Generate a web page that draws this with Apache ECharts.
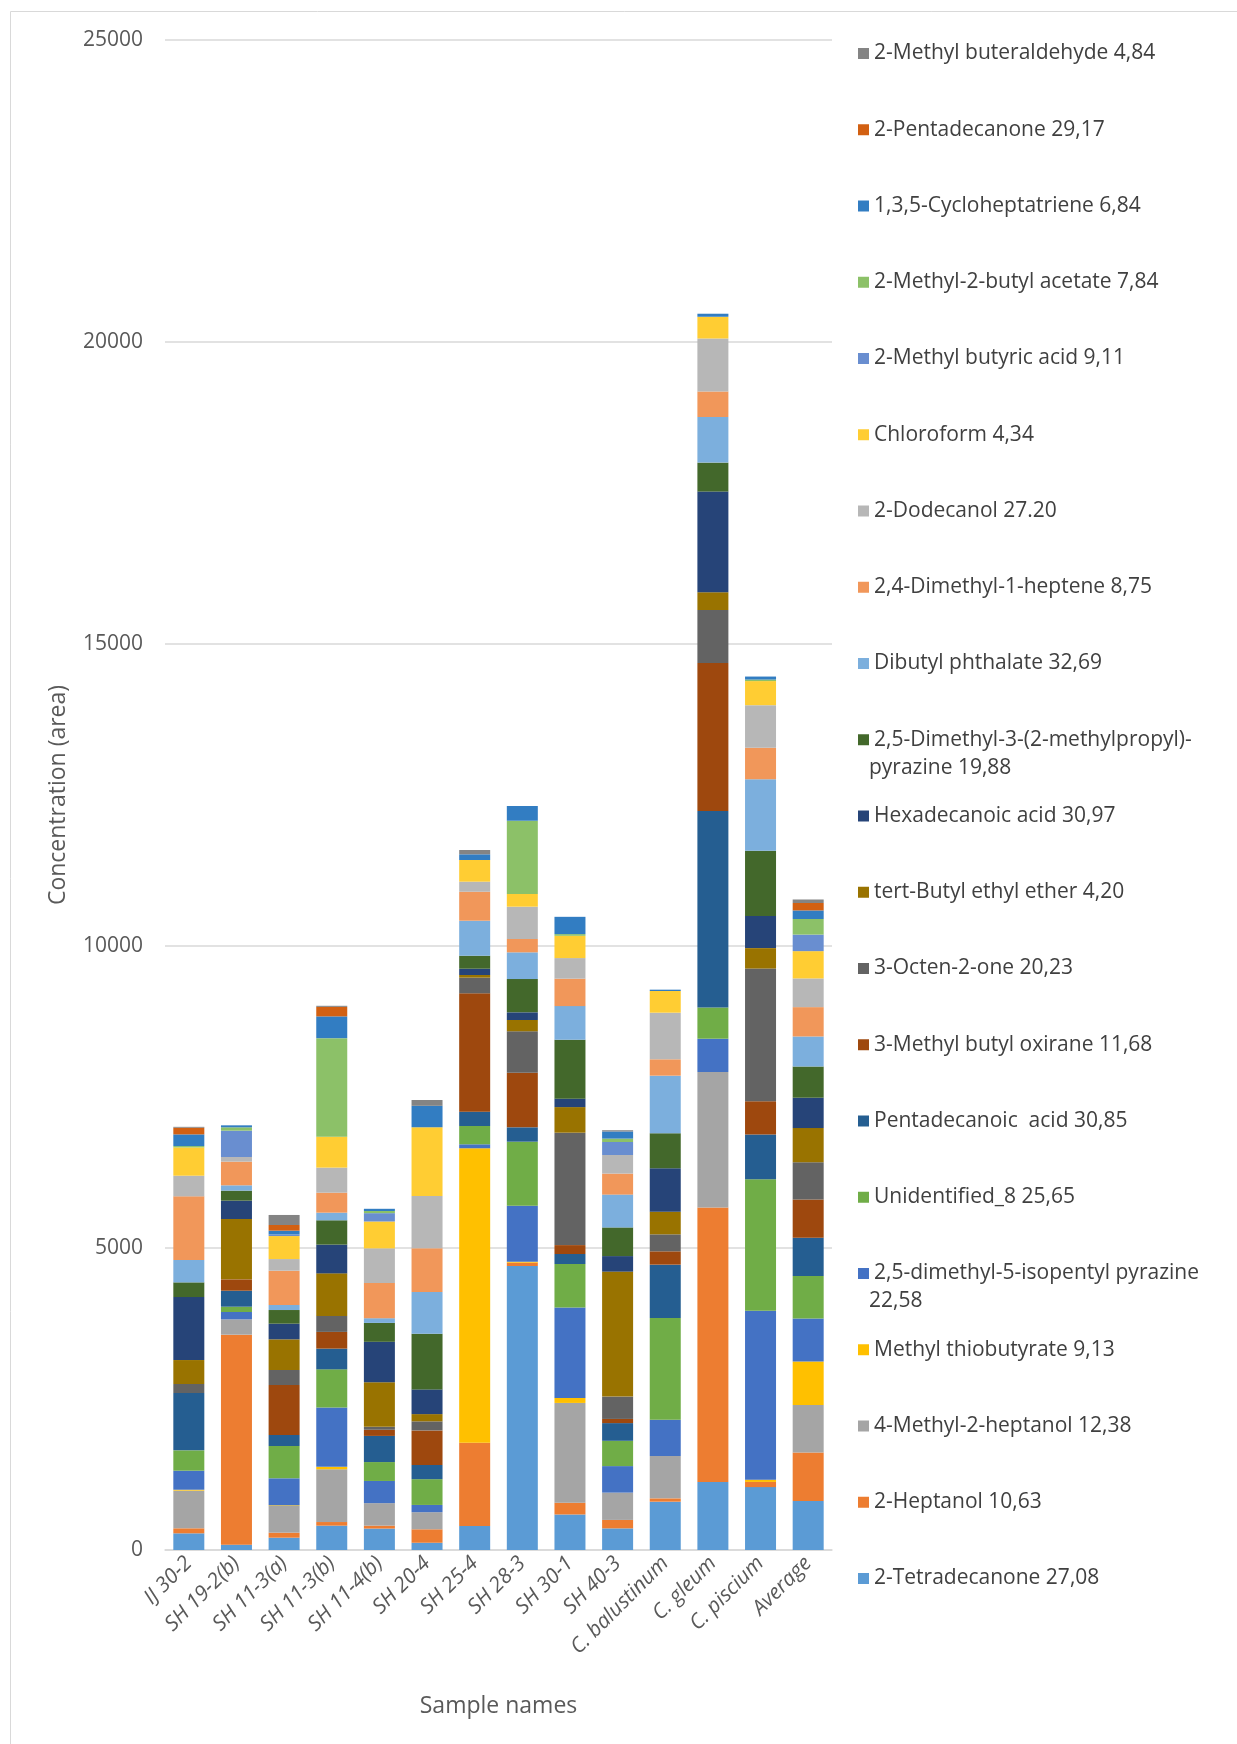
<!DOCTYPE html>
<html><head><meta charset="utf-8">
<script src="https://cdn.jsdelivr.net/npm/echarts@6/dist/echarts.min.js"></script>
<style>html,body{margin:0;padding:0;background:#fff}#c{width:1237px;height:1744px}</style>
</head><body><div id="c"></div>
<script>
const categories = ["IJ 30-2","SH 19-2(b)","SH 11-3(a)","SH 11-3(b)","SH 11-4(b)","SH 20-4","SH 25-4","SH 28-3","SH 30-1","SH 40-3","C. balustinum","C. gleum","C. piscium","Average"];
const yTicks = [0, 5000, 10000, 15000, 20000, 25000];

const tetradecanone = [276, 88, 204, 403, 355, 120, 397, 4702, 588, 358, 800, 1127, 1041, 811];
const heptanol = [83, 3477, 83, 60, 48, 223, 1380, 55, 195, 140, 55, 4545, 86, 805];
const methylHeptanol = [624, 254, 442, 873, 373, 283, 0, 0, 1652, 452, 701, 2240, 0, 783];
const methylThiobutyrate = [15, 0, 11, 42, 0, 0, 4874, 16, 83, 0, 0, 0, 37, 723];
const isopentylPyrazine = [315, 121, 447, 981, 367, 120, 66, 927, 1498, 439, 602, 553, 2799, 712];
const unidentified8 = [337, 88, 535, 632, 313, 427, 303, 1060, 719, 419, 1683, 517, 2176, 704];
const pentadecanoicAcid = [949, 265, 182, 343, 433, 235, 237, 238, 166, 293, 883, 3252, 739, 631];
const butylOxirane = [0, 188, 828, 277, 102, 572, 1960, 905, 147, 69, 221, 2452, 553, 632];
const octenone = [149, 0, 248, 265, 48, 150, 259, 685, 1861, 370, 281, 877, 2196, 618];
const tertButylEther = [397, 999, 508, 704, 740, 120, 44, 187, 424, 2069, 375, 294, 338, 567];
const hexadecanoicAcid = [1043, 304, 259, 476, 668, 409, 104, 127, 139, 257, 718, 1667, 532, 502];
const methylpropylPyrazine = [243, 166, 226, 403, 313, 921, 215, 551, 977, 475, 579, 479, 1081, 517];
const dibutylPhthalate = [370, 88, 83, 126, 78, 692, 580, 442, 556, 543, 955, 755, 1182, 497];
const dimethylHeptene = [1054, 392, 568, 331, 584, 722, 480, 221, 454, 348, 271, 423, 522, 486];
const dodecanol = [342, 77, 193, 415, 572, 867, 166, 535, 341, 308, 772, 877, 705, 475];
const chloroform = [469, 0, 381, 512, 445, 1138, 359, 210, 369, 0, 359, 360, 399, 452];
const butyricAcid = [0, 436, 28, 0, 138, 0, 0, 0, 0, 215, 0, 0, 0, 274];
const butylAcetate = [22, 55, 0, 1631, 36, 0, 0, 1213, 28, 56, 0, 0, 25, 258];
const cycloheptatriene = [193, 33, 61, 361, 36, 355, 94, 244, 286, 118, 22, 50, 50, 142];
const pentadecanone = [110, 0, 94, 157, 0, 0, 0, 0, 0, 0, 0, 0, 0, 123];
const buteraldehyde = [15, 0, 166, 18, 0, 96, 71, 0, 0, 21, 0, 0, 0, 58];

const seriesNames = [
 "2-Tetradecanone 27,08","2-Heptanol 10,63","4-Methyl-2-heptanol 12,38","Methyl thiobutyrate 9,13",
 "2,5-dimethyl-5-isopentyl pyrazine 22,58","Unidentified_8 25,65","Pentadecanoic  acid 30,85",
 "3-Methyl butyl oxirane 11,68","3-Octen-2-one 20,23","tert-Butyl ethyl ether 4,20","Hexadecanoic acid 30,97",
 "2,5-Dimethyl-3-(2-methylpropyl)-pyrazine 19,88","Dibutyl phthalate 32,69","2,4-Dimethyl-1-heptene 8,75",
 "2-Dodecanol 27.20","Chloroform 4,34","2-Methyl butyric acid 9,11","2-Methyl-2-butyl acetate 7,84",
 "1,3,5-Cycloheptatriene 6,84","2-Pentadecanone 29,17","2-Methyl buteraldehyde 4,84"];
const seriesValues = [tetradecanone, heptanol, methylHeptanol, methylThiobutyrate, isopentylPyrazine,
 unidentified8, pentadecanoicAcid, butylOxirane, octenone, tertButylEther, hexadecanoicAcid,
 methylpropylPyrazine, dibutylPhthalate, dimethylHeptene, dodecanol, chloroform, butyricAcid,
 butylAcetate, cycloheptatriene, pentadecanone, buteraldehyde];
const colors = ["#5B9BD5","#ED7D31","#A5A5A5","#FFC000","#4472C4","#70AD47","#255E91","#9E480E","#636363",
 "#997300","#264478","#43682B","#7CAFDD","#F1975A","#B7B7B7","#FFCD33","#698ED0","#8CC168","#327DC2","#D26012","#848484"];

const FONT = '"Open Sans", "Noto Sans", sans-serif';
const firstLine = {
 "2,5-Dimethyl-3-(2-methylpropyl)-pyrazine 19,88": "2,5-Dimethyl-3-(2-methylpropyl)-",
 "2,5-dimethyl-5-isopentyl pyrazine 22,58": "2,5-dimethyl-5-isopentyl pyrazine"
};
const secondLine = {
 "2,5-Dimethyl-3-(2-methylpropyl)-pyrazine 19,88": "pyrazine 19,88",
 "2,5-dimethyl-5-isopentyl pyrazine 22,58": "22,58"
};
const legendOrder = seriesNames.slice().reverse();
const legTop = 48.5, legStep = 76.25;

const graphics = [{
 type: 'rect', shape: {x: 10.5, y: 11.5, width: 1400, height: 1900},
 style: {fill: 'none', stroke: '#D9D9D9', lineWidth: 1}, silent: true
}];
legendOrder.forEach((n, i) => {
 if (secondLine[n]) {
  graphics.push({type: 'text', x: 869, y: legTop + i * legStep + 33,
   style: {text: secondLine[n], fill: '#404040', font: '21px ' + FONT, verticalAlign: 'middle'}});
 }
});

const chart = echarts.init(document.getElementById('c'), null, {renderer: 'canvas'});
chart.setOption({
 animation: false,
 color: colors,
 textStyle: {fontFamily: FONT},
 grid: {left: 165, right: 405, top: 40, bottom: 194},
 legend: {
  orient: 'vertical', left: 853, top: legTop - 12, itemWidth: 11, itemHeight: 11,
  itemGap: legStep - 24, icon: 'rect', selectedMode: false,
  data: legendOrder,
  formatter: n => firstLine[n] || n,
  textStyle: {fontSize: 21, color: '#404040', lineHeight: 24, fontFamily: FONT}
 },
 xAxis: {
  type: 'category', data: categories,
  name: 'Sample names', nameLocation: 'middle', nameGap: 145,
  nameTextStyle: {fontSize: 23, color: '#595959', fontFamily: FONT},
  axisLine: {lineStyle: {color: '#D9D9D9', width: 1.5}},
  axisTick: {show: false},
  axisLabel: {rotate: 45, fontSize: 21, fontStyle: 'italic', color: '#595959', margin: 10, interval: 0, fontFamily: FONT}
 },
 yAxis: {
  type: 'value', min: yTicks[0], max: yTicks[yTicks.length - 1], interval: yTicks[1] - yTicks[0],
  name: 'Concentration (area)', nameLocation: 'middle', nameGap: 95, nameRotate: 90,
  nameTextStyle: {fontSize: 23, color: '#595959', fontFamily: FONT},
  axisLine: {show: false}, axisTick: {show: false},
  splitLine: {lineStyle: {color: '#D9D9D9', width: 1.5}},
  axisLabel: {fontSize: 21, color: '#595959', margin: 22, fontFamily: FONT, formatter: v => String(v)}
 },
 graphic: graphics,
 series: seriesNames.map((n, i) => ({
  name: n, type: 'bar', stack: 'total', data: seriesValues[i],
  barWidth: 31, itemStyle: {color: colors[i]}
 }))
});
</script>
</body></html>
